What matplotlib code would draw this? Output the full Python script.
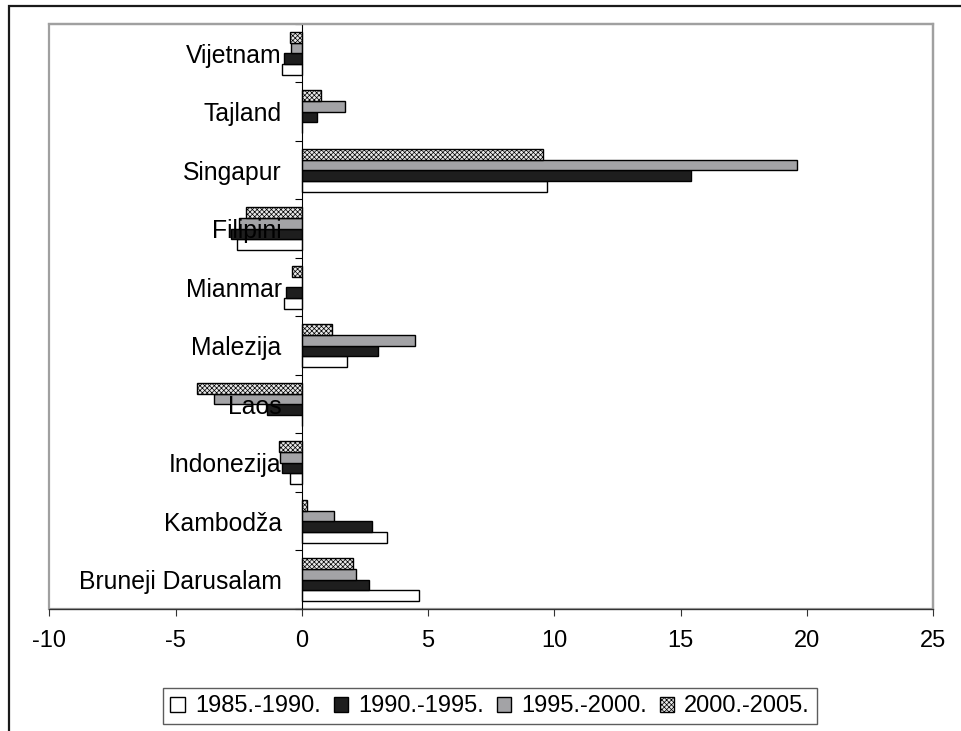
import numpy as np
import matplotlib
matplotlib.use("Agg")
import matplotlib.pyplot as plt
from matplotlib.patches import Rectangle

plt.rcParams['font.family'] = ['Liberation Sans', 'DejaVu Sans']
plt.rcParams['axes.unicode_minus'] = False
plt.rcParams['hatch.linewidth'] = 0.5

# Data (bottom to top, as in the chart)
countries = ['Bruneji Darusalam', 'Kambodža', 'Indonezija', 'Laos', 'Malezija',
             'Mianmar', 'Filipini', 'Singapur', 'Tajland', 'Vijetnam']
periods = ['1985.-1990.', '1990.-1995.', '1995.-2000.', '2000.-2005.']
v_1985_1990 = [4.65, 3.38, -0.46, 0.0, 1.78, -0.70, -2.58, 9.70, 0.0, -0.78]
v_1990_1995 = [2.64, 2.77, -0.79, -1.40, 3.01, -0.63, -2.82, 15.40, 0.59, -0.72]
v_1995_2000 = [2.16, 1.26, -0.85, -3.47, 4.48, 0.0, -2.50, 19.60, 1.70, -0.45]
v_2000_2005 = [2.03, 0.21, -0.92, -4.15, 1.19, -0.39, -2.20, 9.56, 0.76, -0.49]
series = [v_1985_1990, v_1990_1995, v_1995_2000, v_2000_2005]

fills = ['white', '#1e1e1e', '#a3a3a6', '#e8e8e8']
hatches = [None, None, None, 'xxxxxxx']

fig = plt.figure(figsize=(9.61, 7.31), dpi=100)
ax = fig.add_axes([0.0513, 0.1669, 0.9199, 0.8003])

y = np.arange(len(countries))
h = 1 / 5.5
for i, vals in enumerate(series):
    ax.barh(y + (i - 1.5) * h, vals, height=h, color=fills[i], edgecolor='black',
            linewidth=1.0, hatch=hatches[i], label=periods[i])

ax.set_xlim(-10, 25)
ax.set_ylim(-0.5, len(countries) - 0.5)
ax.set_xticks(np.arange(-10, 26, 5))
ax.tick_params(axis='x', direction='out', length=5, width=0.8, color='#333333',
               labelsize=17, pad=10)

# y axis sits at x = 0
ax.spines['left'].set_position(('data', 0))
ax.spines['left'].set_color('black')
ax.spines['left'].set_linewidth(0.8)
ax.set_yticks(y)
ax.set_yticklabels(countries)
ax.set_yticks(np.arange(-0.5, len(countries), 1), minor=True)
ax.tick_params(axis='y', which='major', length=0, labelsize=17.8, pad=14.5)
ax.tick_params(axis='y', which='minor', direction='out', length=5, width=0.8,
               color='black')

for s in ['top', 'right']:
    ax.spines[s].set_color('#a0a0a0')
    ax.spines[s].set_linewidth(1.6)
ax.spines['bottom'].set_color('#333333')
ax.spines['bottom'].set_linewidth(0.9)

# plot area border on the left
ax.add_patch(Rectangle((0, 0), 1, 1, transform=ax.transAxes, fill=False,
                       edgecolor='#a0a0a0', linewidth=1.6, clip_on=False, zorder=0.5))

# outer chart frame (cut off at right and bottom)
fig.add_artist(Rectangle((9 / 961, -0.2), 1.5, (731 - 6) / 731 + 0.2,
                         transform=fig.transFigure, fill=False,
                         edgecolor='#1a1a1a', linewidth=1.6))

leg = fig.legend(loc='center', bbox_to_anchor=(0.51, 0.0337), ncol=4,
                 fontsize=17, frameon=True, fancybox=False,
                 handlelength=0.6, handleheight=0.6, handletextpad=0.43,
                 columnspacing=0.55, borderpad=0.3, borderaxespad=0)
leg.get_frame().set_edgecolor('#333333')
leg.get_frame().set_linewidth(1.0)

fig.savefig('out.png', dpi=100)
